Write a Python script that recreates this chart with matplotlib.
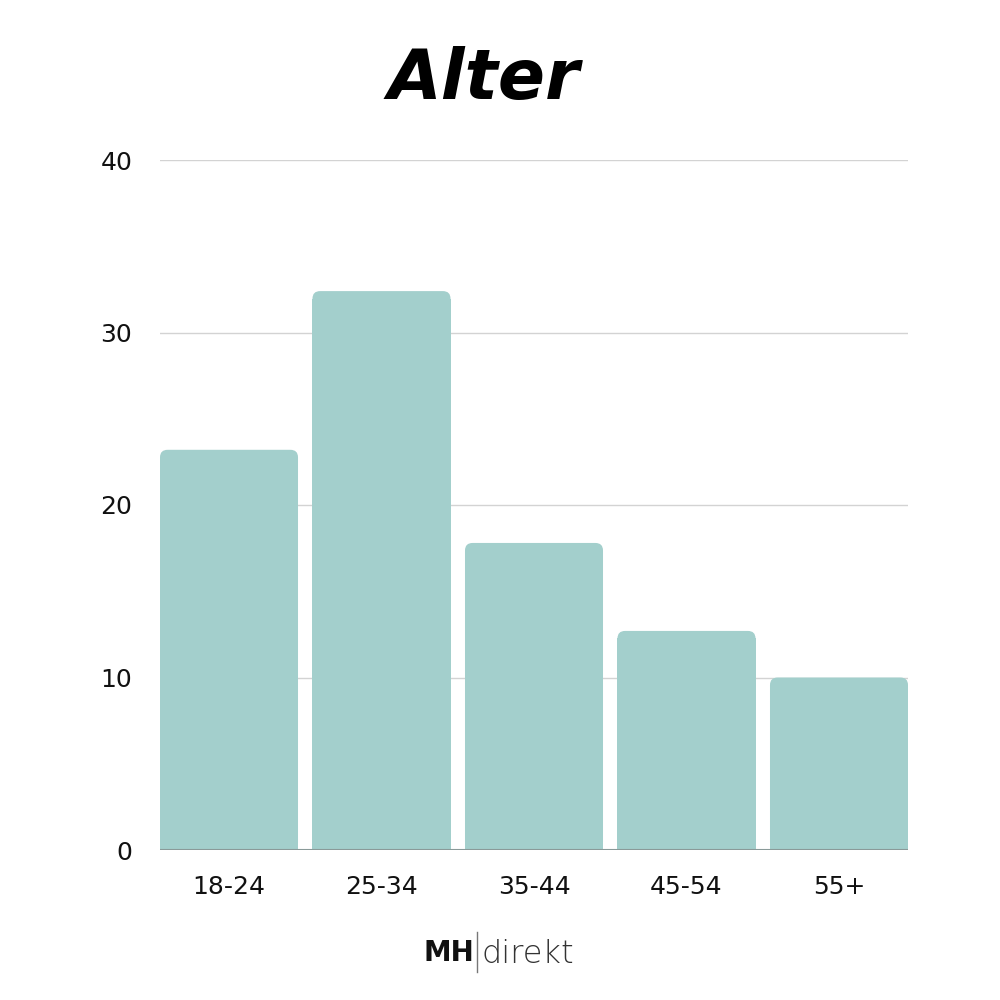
import matplotlib
matplotlib.use("Agg")
import matplotlib.pyplot as plt
from matplotlib.patches import FancyBboxPatch, Rectangle

categories = ["18-24", "25-34", "35-44", "45-54", "55+"]
values = [23.2, 32.4, 17.8, 12.7, 10.0]
yticks = [0, 10, 20, 30, 40]

bar_color = "#a3cfcc"
plt.rcParams['font.family'] = ['DejaVu Sans']

fig = plt.figure(figsize=(10, 10), dpi=100)
ax = fig.add_axes([0.16, 0.15, 0.748, 0.69])

x = list(range(len(categories)))
width = 0.905
bars = ax.bar(x, values, width=width, color=bar_color, zorder=2)

# rounded top corners
r = 0.05
asp = 8.7
for b in bars:
    b.set_visible(False)
    bx, by = b.get_x(), b.get_y()
    bw, bh = b.get_width(), b.get_height()
    fb = FancyBboxPatch((bx + r, by + r * asp), bw - 2 * r, bh - 2 * r * asp,
                        boxstyle="round,pad=%f" % r, mutation_aspect=asp,
                        fc=bar_color, ec="none", lw=0, zorder=2)
    ax.add_patch(fb)
    ax.add_patch(Rectangle((bx, by), bw, bh - r * asp, fc=bar_color, ec="none",
                           lw=0, antialiased=False, zorder=2))

ax.set_xlim(-width / 2, len(categories) - 1 + width / 2)
ax.set_ylim(0, 40)
ax.set_yticks(yticks)
ax.set_xticks(x)
ax.set_xticklabels(categories)
ax.grid(axis="y", color="#d3d3d3", linewidth=1, zorder=0)
ax.axhline(0, color="#8a9a99", linewidth=1.5, zorder=3)
for s in ax.spines.values():
    s.set_visible(False)
ax.tick_params(length=0, labelsize=18, colors="#111111")
ax.tick_params(axis="y", pad=20)
ax.tick_params(axis="x", pad=18)

fig.text(0.484, 0.92, "Alter", ha="center", va="center", fontsize=50,
         fontweight="heavy", fontstyle="italic", color="black")

fig.text(0.474, 0.047, "MH", ha="right", va="center", fontsize=20,
         fontweight="bold", color="#111111")
fig.add_artist(plt.Line2D([0.477, 0.477], [0.028, 0.068], color="#777777", linewidth=1))
fig.text(0.481, 0.046, "direkt", ha="left", va="center", fontsize=23,
         fontweight="light", color="#333333")

fig.savefig("out.png", dpi=100)
